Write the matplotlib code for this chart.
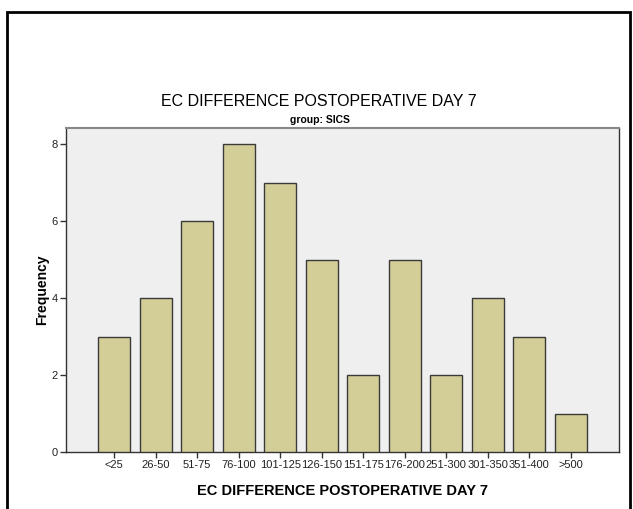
import numpy as np
from matplotlib import pyplot as plt
from matplotlib.patches import Rectangle

plt.rcParams["font.family"] = ["Liberation Sans", "DejaVu Sans"]

categories = ["<25", "26-50", "51-75", "76-100", "101-125", "126-150",
              "151-175", "176-200", "251-300", "301-350", "351-400", ">500"]
frequency = [3, 4, 6, 8, 7, 5, 2, 5, 2, 4, 3, 1]
y_ticks = [0, 2, 4, 6, 8]

title = "EC DIFFERENCE POSTOPERATIVE DAY 7"
panel = "group: SICS"


def main():
    fig = plt.figure(figsize=(6.33, 5.09), dpi=100)
    ax = fig.add_axes([66 / 633, 57 / 509, 553 / 633, 324 / 509])
    ax.set_facecolor("#efefef")

    x = np.arange(len(categories))
    ax.bar(x, frequency, width=0.77, color="#d3ce97",
           edgecolor="#3a3a3a", linewidth=1.0, zorder=3)

    ax.set_xlim(-1.16, len(categories) - 1 + 1.16)
    ax.set_ylim(0, 8.42)
    ax.set_xticks(x)
    ax.set_xticklabels(categories, fontsize=8, color="#222222")
    ax.set_yticks(y_ticks)
    ax.set_yticklabels([str(v) for v in y_ticks], fontsize=8, color="#222222")
    ax.tick_params(axis="both", direction="out", length=4, width=1,
                   color="#333333", pad=2)

    for side in ["left", "bottom", "right"]:
        ax.spines[side].set_color("#333333")
        ax.spines[side].set_linewidth(1.0)
    ax.spines["top"].set_color("#888888")
    ax.spines["top"].set_linewidth(1.5)

    ax.set_xlabel(title, fontsize=10.5, fontweight="bold", labelpad=10)
    ax.set_ylabel("Frequency", fontsize=10, fontweight="bold", labelpad=2)

    fig.text(319 / 633, 1 - 102 / 509, title, fontsize=11.5,
             ha="center", va="center")
    fig.text(320 / 633, 1 - 120 / 509, panel, fontsize=7.5,
             fontweight="bold", ha="center", va="center")

    # outer frame of the output window
    fig.patches.append(Rectangle((7 / 633, -0.05), 623 / 633, 1.05 - 12 / 509,
                                 transform=fig.transFigure, fill=False,
                                 edgecolor="black", linewidth=2))

    fig.savefig("out.png", dpi=100)


if __name__ == "__main__":
    main()
